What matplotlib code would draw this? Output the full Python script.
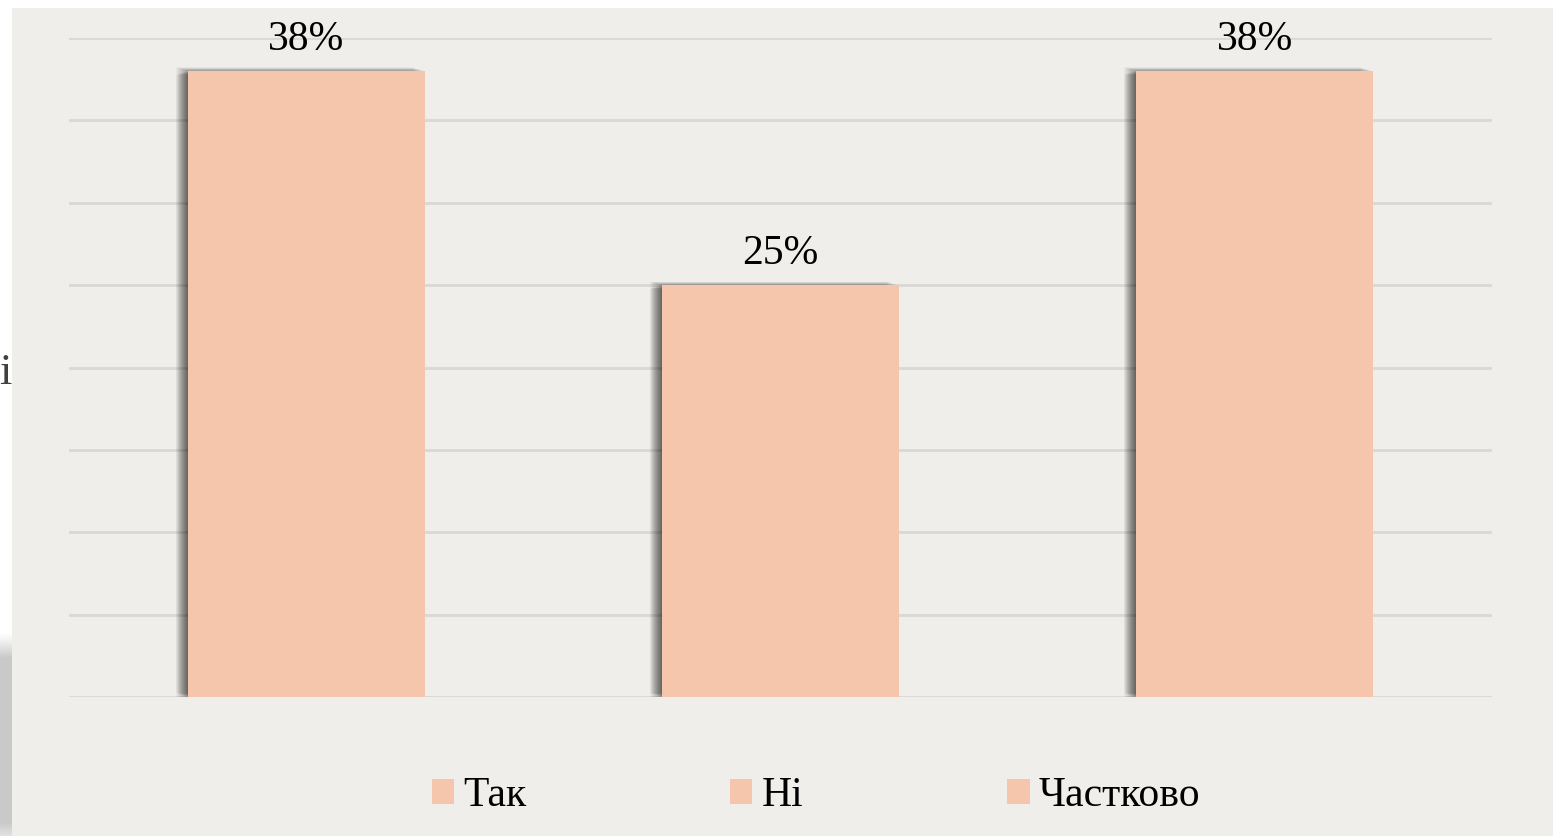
import matplotlib
matplotlib.use("Agg")
import matplotlib.pyplot as plt
import matplotlib.patheffects as pe
from matplotlib.patches import Rectangle, Patch
import numpy as np

categories = ["Так", "Ні", "Частково"]
values = [38, 25, 38]
value_labels = ["38%", "25%", "38%"]

W, H = 1553, 836
DPI = 100
BG = "#F0EEEA"
BAR = "#F6C6AC"
GRID = "#D9D8D6"

plt.rcParams['font.family'] = ['Liberation Serif', 'DejaVu Serif']

fig = plt.figure(figsize=(W / DPI, H / DPI), dpi=DPI, facecolor="white")

# chart area background
bgrect = Rectangle((12 / W, 0), 1 - 12 / W, (H - 8) / H,
                   transform=fig.transFigure, facecolor=BG,
                   edgecolor="none", zorder=-10)
fig.patches.append(bgrect)

# grey shadow strip at bottom-left (slide edge)
sax = fig.add_axes([0, 0, 12 / W, (H - 632) / H])
sax.set_axis_off()
sax.set_zorder(-5)
n = 204
grad = np.ones(n)
grad[:26] = np.linspace(0, 1, 26) ** 1.2
grad[-14:] = np.linspace(1, 0.55, 14)
col = np.array([0.79, 0.79, 0.79])
img = 1 - grad[:, None, None] * (1 - col)[None, None, :]
img = np.repeat(img, 2, axis=1)
sax.imshow(img, aspect="auto", extent=[0, 1, 0, 1])

# partial letter from the slide on the far left
fig.text(12 / W, (H - 384) / H, "і", ha="right", va="baseline",
         fontsize=32, color="#404040")

ax = fig.add_axes([69 / W, (H - 697) / H, (1492 - 69) / W, (697 - 38) / H])
ax.set_facecolor("none")
ax.set_xlim(-0.5, len(categories) - 0.5)
ax.set_ylim(0, 40)
ax.set_yticks(np.arange(0, 41, 5))
ax.yaxis.grid(True, color=GRID, linewidth=2)
ax.set_axisbelow(True)
for s in ax.spines.values():
    s.set_visible(False)
ax.tick_params(left=False, bottom=False, labelleft=False, labelbottom=False)

# soft drop shadow (left, slightly top and bottom)
shadow_effects = []
for k in range(1, 13):
    for dy in (0.3, -0.3):
        shadow_effects.append(pe.SimplePatchShadow(
            offset=(-k * 0.72, dy * k * 0.72),
            shadow_rgbFace="black", alpha=0.03))
shadow_effects.append(pe.Normal())

x = np.arange(len(categories))
bars = ax.bar(x, values, width=0.5, color=BAR, zorder=3)
for b in bars:
    b.set_path_effects(shadow_effects)

for xi, v, lab in zip(x, values, value_labels):
    ax.annotate(lab, (xi, v), xytext=(0, 15), textcoords="offset points",
                ha="center", va="baseline", fontsize=30, color="black",
                annotation_clip=False)

handles = [Patch(facecolor=BAR, edgecolor="none", label=c) for c in categories]
leg = fig.legend(handles=handles, loc="center", ncol=3,
                 bbox_to_anchor=(816 / W, (H - 796) / H),
                 frameon=False, fontsize=30, handlelength=0.53,
                 handleheight=0.53, handletextpad=0.22, columnspacing=4.9,
                 borderpad=0)

fig.savefig("out.png", dpi=DPI, facecolor="white")
